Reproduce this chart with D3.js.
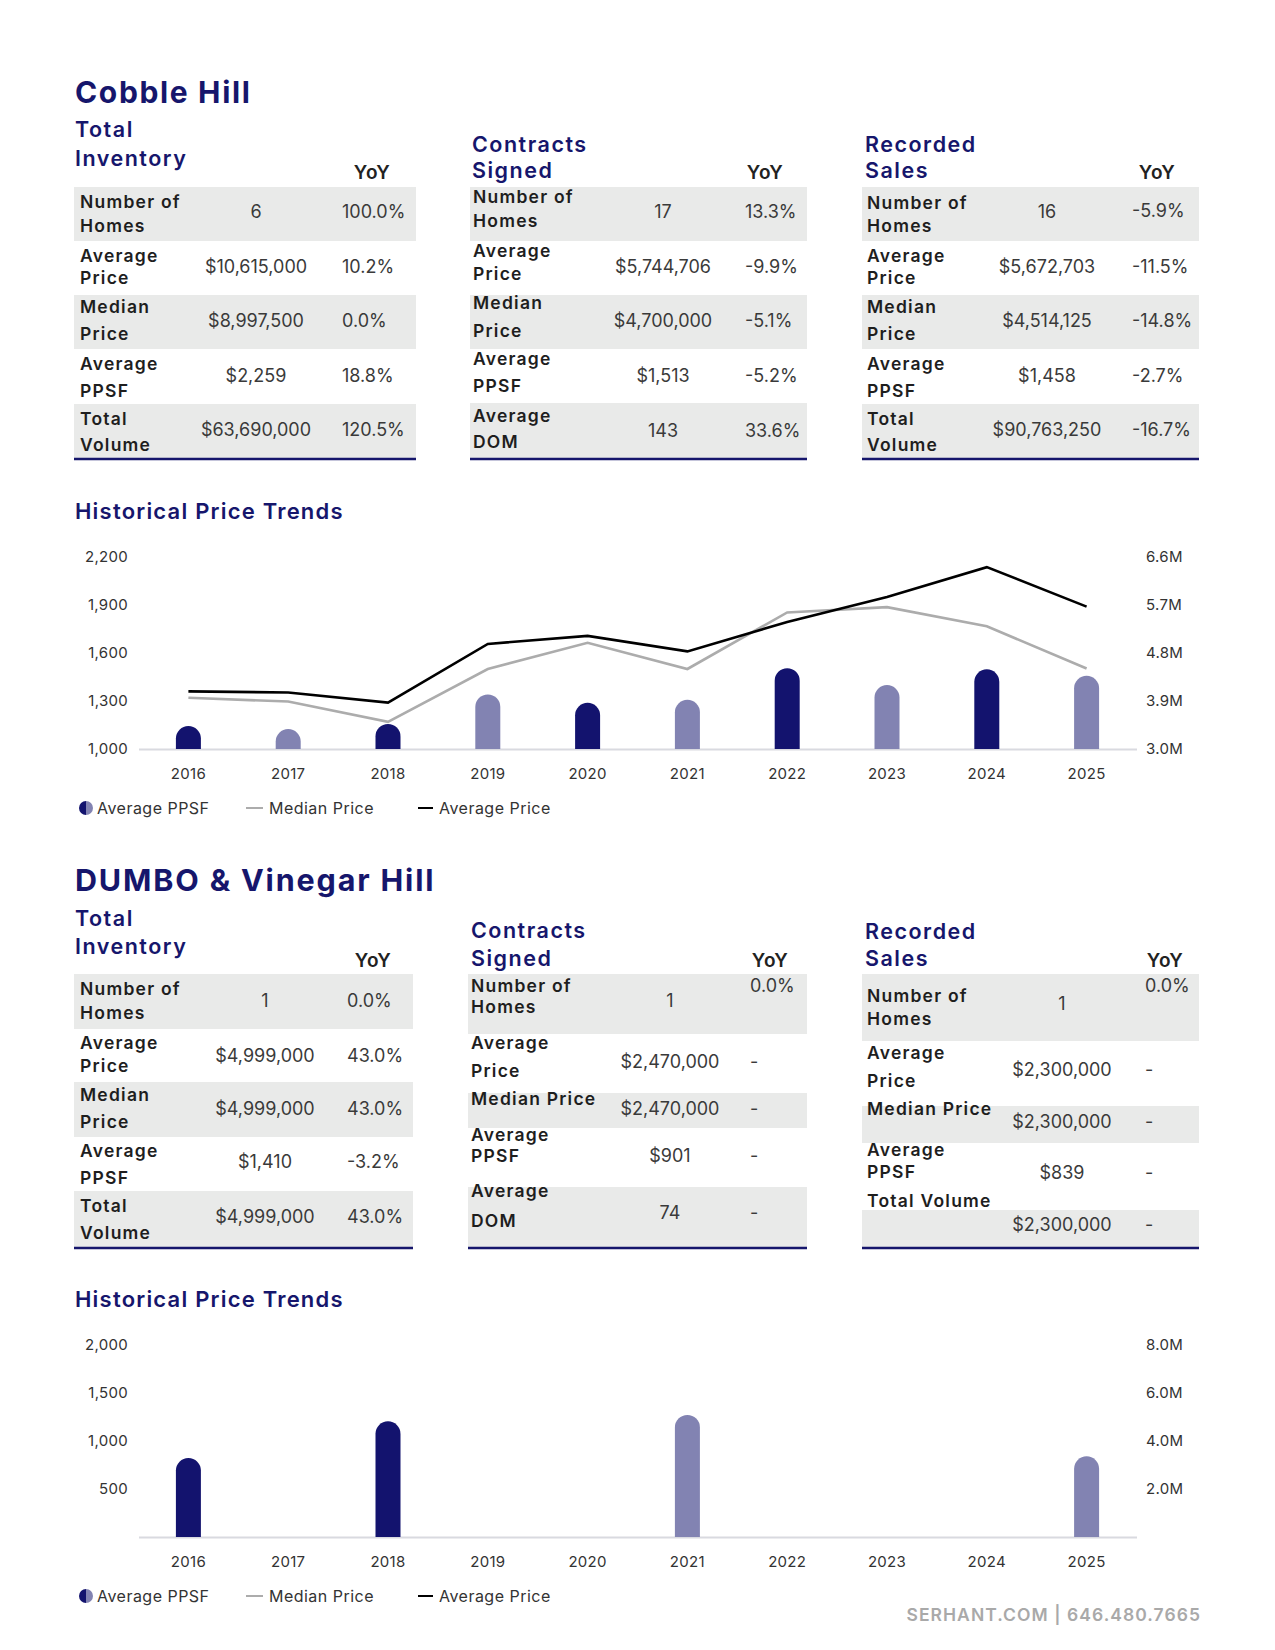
<!DOCTYPE html>
<html><head><meta charset="utf-8">
<script src="https://cdn.jsdelivr.net/npm/d3@7"></script>
<style>body{margin:0;background:#fff}svg{display:block}</style>
</head><body><svg id="c" width="1275" height="1650"></svg>
<script>
// ---------------- DATA ----------------
const years = [2016, 2017, 2018, 2019, 2020, 2021, 2022, 2023, 2024, 2025];

// Cobble Hill chart
const cobblePPSF = [1144, 1125, 1157, 1341, 1289, 1308, 1505, 1400, 1498, 1458];
const cobbleMedianM = [3.96, 3.89, 3.51, 4.50, 4.99, 4.50, 5.56, 5.66, 5.30, 4.51];
const cobbleAverageM = [4.08, 4.06, 3.87, 4.97, 5.12, 4.83, 5.38, 5.85, 6.41, 5.67];
const cobbleLeftTicks = [1000, 1300, 1600, 1900, 2200];
const cobbleRightTicks = [3.0, 3.9, 4.8, 5.7, 6.6];

// DUMBO chart
const dumboPPSF = [820, null, 1202, null, null, 1268, null, null, null, 839];
const dumboMedianM = [null, null, null, null, null, null, null, null, null, null];
const dumboAverageM = [null, null, null, null, null, null, null, null, null, null];
const dumboLeftTicks = [500, 1000, 1500, 2000];
const dumboRightTicks = [2, 4, 6, 8];

// Tables
const invLabels = [["Number of", "Homes"], ["Average", "Price"], ["Median", "Price"], ["Average", "PPSF"], ["Total", "Volume"]];
const conLabels = [["Number of", "Homes"], ["Average", "Price"], ["Median", "Price"], ["Average", "PPSF"], ["Average", "DOM"]];
const recLabels = [["Number of", "Homes"], ["Average", "Price"], ["Median", "Price"], ["Average", "PPSF"], ["Total", "Volume"]];
const dumboConLabels = [["Number of", "Homes"], ["Average", "Price"], ["Median Price"], ["Average", "PPSF"], ["Average", "DOM"]];
const dumboRecLabels = [["Number of", "Homes"], ["Average", "Price"], ["Median Price"], ["Average", "PPSF"], ["Total Volume"]];

const cobbleInvValues = ["6", "$10,615,000", "$8,997,500", "$2,259", "$63,690,000"];
const cobbleInvYoY = ["100.0%", "10.2%", "0.0%", "18.8%", "120.5%"];
const cobbleConValues = ["17", "$5,744,706", "$4,700,000", "$1,513", "143"];
const cobbleConYoY = ["13.3%", "-9.9%", "-5.1%", "-5.2%", "33.6%"];
const cobbleRecValues = ["16", "$5,672,703", "$4,514,125", "$1,458", "$90,763,250"];
const cobbleRecYoY = ["-5.9%", "-11.5%", "-14.8%", "-2.7%", "-16.7%"];

const dumboInvValues = ["1", "$4,999,000", "$4,999,000", "$1,410", "$4,999,000"];
const dumboInvYoY = ["0.0%", "43.0%", "43.0%", "-3.2%", "43.0%"];
const dumboConValues = ["1", "$2,470,000", "$2,470,000", "$901", "74"];
const dumboConYoY = ["0.0%", "-", "-", "-", "-"];
const dumboRecValues = ["1", "$2,300,000", "$2,300,000", "$839", "$2,300,000"];
const dumboRecYoY = ["0.0%", "-", "-", "-", "-"];

// ---------------- STYLE ----------------
const NAVY = "#16166c", LIGHT = "#8283b2", GRAYROW = "#e9eae9";
const FONT = "Inter, 'Noto Sans', sans-serif";
const svg = d3.select("#c");

function txt(x, y, s, o = {}) {
  return svg.append("text").attr("x", x).attr("y", y).text(s)
    .attr("font-family", FONT)
    .attr("font-size", o.size || 18)
    .attr("font-weight", o.weight || 400)
    .attr("fill", o.fill || "#333")
    .attr("text-anchor", o.anchor || "start")
    .attr("letter-spacing", o.ls || 0);
}

// Section headings
txt(75, 103, "Cobble Hill", {size: 30, weight: 700, fill: NAVY, ls: "0.055em"});
txt(75, 891, "DUMBO & Vinegar Hill", {size: 30.5, weight: 700, fill: NAVY, ls: "0.06em"});

// ---------------- TABLES ----------------
function drawTable(L, title, labels, values, yoy) {
  title.forEach((t, i) => txt(L.titleX, L.titleY[i], t, {size: 21.5, weight: 600, fill: NAVY, ls: "0.07em"}));
  txt(L.yoyHX, L.yoyHY, "YoY", {size: 19, weight: 600, fill: "#222", anchor: L.yoyHAnchor, ls: "0.03em"});
  L.rows.forEach((r, i) => {
    const [top, h] = r;
    svg.append("rect").attr("x", L.x).attr("y", top).attr("width", L.w).attr("height", h)
      .attr("fill", i % 2 === 0 ? GRAYROW : "#fff");
  });
  L.rows.forEach((r, i) => {
    const [top, h, labOff, valOff, yoyOff] = r;
    labels[i].forEach((s, j) => txt(L.labelX, top + labOff[j], s, {size: 17.5, weight: 600, fill: "#1e1e1e", ls: "0.07em"}));
    txt(L.valueX, top + valOff, values[i], {size: 18, weight: 400, fill: "#3a3a3a", anchor: "middle"});
    txt(L.yoyX, top + yoyOff, yoy[i], {size: 18, weight: 400, fill: "#3a3a3a"});
  });
  svg.append("line").attr("x1", L.x).attr("x2", L.x + L.w).attr("y1", L.bottom).attr("y2", L.bottom)
    .attr("stroke", NAVY).attr("stroke-width", 2.5);
}

const layoutT1 = {x: 74, w: 342, bottom: 459, titleX: 75, titleY: [137, 166], yoyHX: 372, yoyHY: 179, yoyHAnchor: "middle",
  labelX: 80, valueX: 256, yoyX: 342,
  rows: [[187, 54, [21, 45], 31, 31], [241, 54, [21, 43], 32, 32], [295, 54, [18, 45], 32, 32], [349, 55, [21, 48], 33, 33], [404, 55, [21, 47], 32, 32]]};
const layoutT2 = {x: 470, w: 337, bottom: 459, titleX: 472, titleY: [152, 178], yoyHX: 765, yoyHY: 179, yoyHAnchor: "middle",
  labelX: 473, valueX: 663, yoyX: 745,
  rows: [[187, 54, [16, 40], 31, 31], [241, 54, [16, 39], 32, 32], [295, 54, [14, 42], 32, 32], [349, 54, [16, 43], 33, 33], [403, 56, [19, 45], 34, 34]]};
const layoutT3 = {x: 862, w: 337, bottom: 459, titleX: 865, titleY: [152, 178], yoyHX: 1157, yoyHY: 179, yoyHAnchor: "middle",
  labelX: 867, valueX: 1047, yoyX: 1132,
  rows: [[187, 54, [22, 45], 31, 30], [241, 54, [21, 43], 32, 32], [295, 54, [18, 45], 32, 32], [349, 55, [21, 48], 33, 33], [404, 55, [21, 47], 32, 32]]};
const layoutT4 = {x: 74, w: 339, bottom: 1248, titleX: 75, titleY: [926, 954], yoyHX: 373, yoyHY: 967, yoyHAnchor: "middle",
  labelX: 80, valueX: 265, yoyX: 347,
  rows: [[974, 55, [21, 45], 33, 33], [1029, 53, [20, 43], 33, 33], [1082, 55, [19, 46], 33, 33], [1137, 54, [20, 47], 31, 31], [1191, 57, [21, 48], 32, 32]]};
const layoutT5 = {x: 468, w: 339, bottom: 1248, titleX: 471, titleY: [938, 966], yoyHX: 770, yoyHY: 967, yoyHAnchor: "middle",
  labelX: 471, valueX: 670, yoyX: 750,
  rows: [[974, 60, [18, 39], 33, 18], [1034, 59, [15, 43], 34, 34], [1093, 35, [12], 22, 22], [1128, 59, [13, 34], 34, 34], [1187, 61, [10, 40], 32, 32]]};
const layoutT6 = {x: 862, w: 337, bottom: 1248, titleX: 865, titleY: [939, 966], yoyHX: 1165, yoyHY: 967, yoyHAnchor: "middle",
  labelX: 867, valueX: 1062, yoyX: 1145,
  rows: [[974, 67, [28, 51], 36, 18], [1041, 65, [18, 46], 35, 35], [1106, 37, [9], 22, 22], [1143, 67, [13, 35], 36, 36], [1210, 37, [-3], 21, 21]]};

drawTable(layoutT1, ["Total", "Inventory"], invLabels, cobbleInvValues, cobbleInvYoY);
drawTable(layoutT2, ["Contracts", "Signed"], conLabels, cobbleConValues, cobbleConYoY);
drawTable(layoutT3, ["Recorded", "Sales"], recLabels, cobbleRecValues, cobbleRecYoY);
drawTable(layoutT4, ["Total", "Inventory"], invLabels, dumboInvValues, dumboInvYoY);
drawTable(layoutT5, ["Contracts", "Signed"], dumboConLabels, dumboConValues, dumboConYoY);
drawTable(layoutT6, ["Recorded", "Sales"], dumboRecLabels, dumboRecValues, dumboRecYoY);

// ---------------- CHARTS ----------------
function drawChart(C, ppsf, medianM, averageM, leftTicks, rightTicks) {
  txt(75, C.titleY, "Historical Price Trends", {size: 22, weight: 600, fill: NAVY, ls: "0.055em"});
  const x = d3.scaleBand().domain(years).range([138.5, 1136.5]);
  const yL = d3.scaleLinear().domain(C.leftDomain).range([C.base, C.top]);
  const yR = d3.scaleLinear().domain(C.rightDomain).range([C.base, C.top]);
  const g = svg.append("g");

  // axes
  const xa = g.append("g").attr("transform", `translate(0,${C.base})`)
    .call(d3.axisBottom(x).tickSize(0).tickSizeOuter(0).tickPadding(19));
  xa.select(".domain").attr("stroke", "#d9dae0").attr("stroke-width", 2);
  const la = g.append("g").attr("transform", "translate(140,0)")
    .call(d3.axisLeft(yL).tickValues(leftTicks).tickSize(0).tickPadding(12).tickFormat(d3.format(",")));
  la.select(".domain").remove();
  const ra = g.append("g").attr("transform", "translate(1134,0)")
    .call(d3.axisRight(yR).tickValues(rightTicks).tickSize(0).tickPadding(12).tickFormat(d => d.toFixed(1) + "M"));
  ra.select(".domain").remove();
  g.selectAll(".tick text").attr("font-family", FONT).attr("font-size", 15).attr("fill", "#333").attr("letter-spacing", "0.02em");

  // bars with rounded tops
  const bw = 25, r = bw / 2;
  const barData = years.map((yr, i) => ({yr, i, v: ppsf[i]})).filter(d => d.v != null);
  g.selectAll("path.bar").data(barData).enter().append("path").attr("class", "bar")
    .attr("fill", d => d.i % 2 === 0 ? "#13136e" : LIGHT)
    .attr("d", d => {
      const cx = x(d.yr) + x.bandwidth() / 2, top = yL(d.v), b = C.base;
      return `M${cx - r},${b} L${cx - r},${top + r} A${r},${r} 0 0 1 ${cx + r},${top + r} L${cx + r},${b} Z`;
    });

  // lines
  const line = d3.line().defined(d => d.v != null)
    .x(d => x(d.yr) + x.bandwidth() / 2).y(d => yR(d.v));
  const med = years.map((yr, i) => ({yr, v: medianM[i]}));
  const avg = years.map((yr, i) => ({yr, v: averageM[i]}));
  g.append("path").datum(med).attr("d", line).attr("fill", "none").attr("stroke", "#acacac").attr("stroke-width", 2.6);
  g.append("path").datum(avg).attr("d", line).attr("fill", "none").attr("stroke", "#000").attr("stroke-width", 2.6);

  // legend
  const ly = C.legendY;
  const lg = svg.append("g");
  lg.append("path").attr("d", d3.arc()({innerRadius: 0, outerRadius: 7, startAngle: Math.PI, endAngle: 2 * Math.PI}))
    .attr("transform", `translate(86,${ly})`).attr("fill", "#13136e");
  lg.append("path").attr("d", d3.arc()({innerRadius: 0, outerRadius: 7, startAngle: 0, endAngle: Math.PI}))
    .attr("transform", `translate(86,${ly})`).attr("fill", LIGHT);
  txt(97, ly + 5.5, "Average PPSF", {size: 16, fill: "#333", ls: "0.03em"});
  lg.append("line").attr("x1", 246).attr("x2", 263).attr("y1", ly).attr("y2", ly).attr("stroke", "#acacac").attr("stroke-width", 2);
  txt(269, ly + 5.5, "Median Price", {size: 16, fill: "#333", ls: "0.03em"});
  lg.append("line").attr("x1", 418).attr("x2", 433).attr("y1", ly).attr("y2", ly).attr("stroke", "#000").attr("stroke-width", 2);
  txt(439, ly + 5.5, "Average Price", {size: 16, fill: "#333", ls: "0.03em"});
}

drawChart({titleY: 519, base: 749, top: 557, leftDomain: [1000, 2200], rightDomain: [3.0, 6.6], legendY: 808},
  cobblePPSF, cobbleMedianM, cobbleAverageM, cobbleLeftTicks, cobbleRightTicks);
drawChart({titleY: 1307, base: 1537, top: 1344.5, leftDomain: [0, 2000], rightDomain: [0, 8], legendY: 1596},
  dumboPPSF, dumboMedianM, dumboAverageM, dumboLeftTicks, dumboRightTicks);

// footer
txt(1201, 1621, "SERHANT.COM | 646.480.7665", {size: 17.5, weight: 600, fill: "#a9a9a9", anchor: "end", ls: "0.06em"});
</script></body></html>
